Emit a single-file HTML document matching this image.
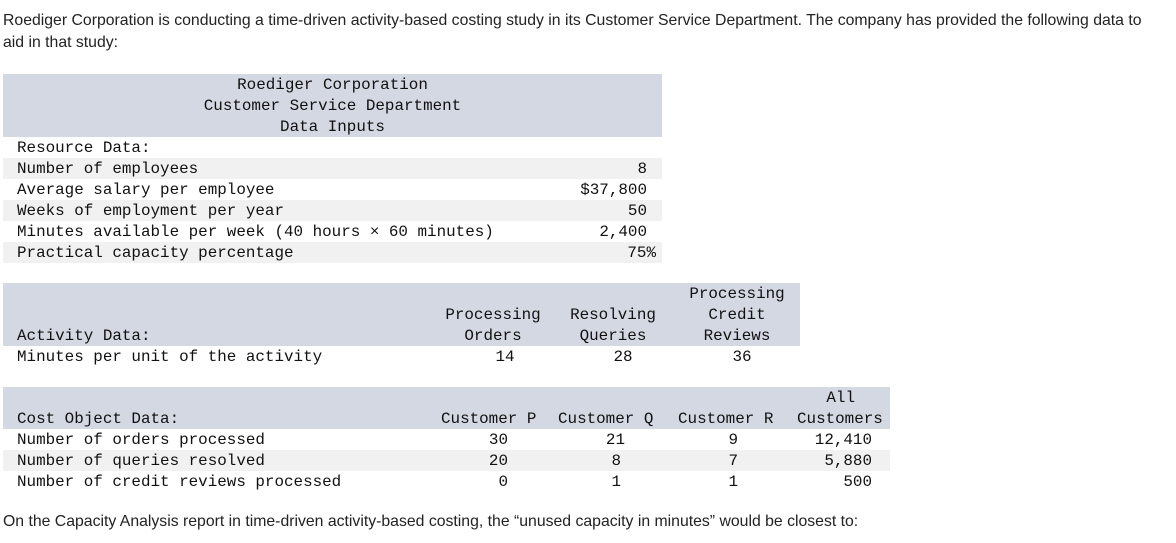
<!DOCTYPE html>
<html><head><meta charset="utf-8">
<style>
body{margin:0;width:1176px;height:543px;background:#fff;position:relative;overflow:hidden}
.p{position:absolute;left:3px;font-family:"Liberation Sans",sans-serif;font-size:15.8px;color:#222;white-space:nowrap;line-height:22px}
.m{position:absolute;font-family:"Liberation Mono",monospace;font-size:15.9px;color:#111;white-space:nowrap;line-height:21px;height:21px;margin-top:1px}
.bg{position:absolute;background:#d3d8e3}
.st{position:absolute;background:#f1f1f1;height:21px}
.r{text-align:right}
.c{text-align:center}
</style></head><body>
<div class="p" style="top:10px">Roediger Corporation is conducting a time-driven activity-based costing study in its Customer Service Department. The company has provided the following data to</div>
<div class="p" style="top:32px">aid in that study:</div>

<!-- Table 1 -->
<div class="bg" style="left:3px;top:74px;width:659px;height:63px"></div>
<div class="m c" style="left:3px;width:659px;top:74px">Roediger Corporation</div>
<div class="m c" style="left:3px;width:659px;top:95px">Customer Service Department</div>
<div class="m c" style="left:3px;width:659px;top:116px">Data Inputs</div>
<div class="st" style="left:3px;width:659px;top:158px"></div>
<div class="st" style="left:3px;width:659px;top:200px"></div>
<div class="st" style="left:3px;width:659px;top:242px"></div>
<div class="m" style="left:17px;top:137px">Resource Data:</div>
<div class="m" style="left:17px;top:158px">Number of employees</div>
<div class="m" style="left:17px;top:179px">Average salary per employee</div>
<div class="m" style="left:17px;top:200px">Weeks of employment per year</div>
<div class="m" style="left:17px;top:221px">Minutes available per week (40 hours × 60 minutes)</div>
<div class="m" style="left:17px;top:242px">Practical capacity percentage</div>
<div class="m r" style="left:500px;width:147px;top:158px">8</div>
<div class="m r" style="left:500px;width:147px;top:179px">$37,800</div>
<div class="m r" style="left:500px;width:147px;top:200px">50</div>
<div class="m r" style="left:500px;width:147px;top:221px">2,400</div>
<div class="m r" style="left:500px;width:156px;top:242px">75%</div>

<!-- Table 2 -->
<div class="bg" style="left:3px;top:283px;width:797px;height:63px"></div>
<div class="m c" style="left:433px;width:120px;top:304px">Processing</div>
<div class="m c" style="left:433px;width:120px;top:325px">Orders</div>
<div class="m c" style="left:553px;width:120px;top:304px">Resolving</div>
<div class="m c" style="left:553px;width:120px;top:325px">Queries</div>
<div class="m c" style="left:677px;width:120px;top:283px">Processing</div>
<div class="m c" style="left:677px;width:120px;top:304px">Credit</div>
<div class="m c" style="left:677px;width:120px;top:325px">Reviews</div>
<div class="m" style="left:17px;top:325px">Activity Data:</div>
<div class="m" style="left:17px;top:346px">Minutes per unit of the activity</div>
<div class="m c" style="left:445px;width:120px;top:346px">14</div>
<div class="m c" style="left:563px;width:120px;top:346px">28</div>
<div class="m c" style="left:682px;width:120px;top:346px">36</div>

<!-- Table 3 -->
<div class="bg" style="left:3px;top:387px;width:887px;height:42px"></div>
<div class="st" style="left:3px;width:887px;top:450px"></div>
<div class="m r" style="left:700px;width:155px;top:387px">All</div>
<div class="m" style="left:17px;top:408px">Cost Object Data:</div>
<div class="m" style="left:441px;top:408px">Customer P</div>
<div class="m" style="left:558px;top:408px">Customer Q</div>
<div class="m" style="left:678px;top:408px">Customer R</div>
<div class="m" style="left:797px;top:408px">Customers</div>
<div class="m" style="left:17px;top:429px">Number of orders processed</div>
<div class="m" style="left:17px;top:450px">Number of queries resolved</div>
<div class="m" style="left:17px;top:471px">Number of credit reviews processed</div>
<div class="m r" style="left:400px;width:108px;top:429px">30</div>
<div class="m r" style="left:400px;width:108px;top:450px">20</div>
<div class="m r" style="left:400px;width:108px;top:471px">0</div>
<div class="m r" style="left:520px;width:105px;top:429px">21</div>
<div class="m r" style="left:520px;width:101px;top:450px">8</div>
<div class="m r" style="left:520px;width:101px;top:471px">1</div>
<div class="m r" style="left:640px;width:98px;top:429px">9</div>
<div class="m r" style="left:640px;width:98px;top:450px">7</div>
<div class="m r" style="left:640px;width:98px;top:471px">1</div>
<div class="m r" style="left:760px;width:112px;top:429px">12,410</div>
<div class="m r" style="left:760px;width:112px;top:450px">5,880</div>
<div class="m r" style="left:760px;width:112px;top:471px">500</div>

<div class="p" style="top:511px">On the Capacity Analysis report in time-driven activity-based costing, the “unused capacity in minutes” would be closest to:</div>
</body></html>
